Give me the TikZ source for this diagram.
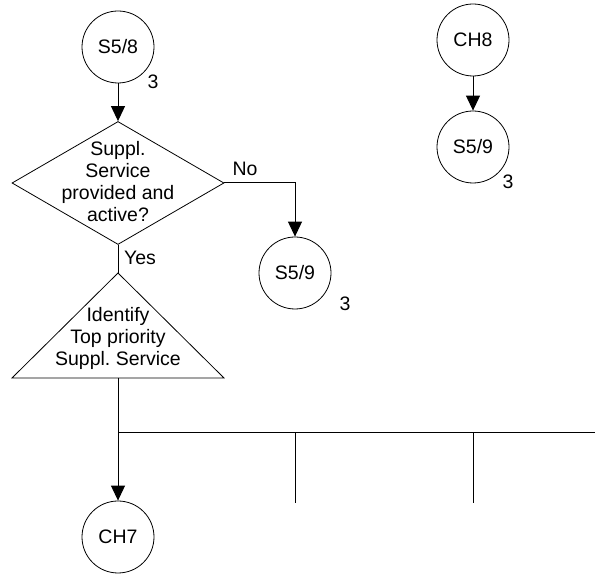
\documentclass[tikz,border=0pt]{standalone}
\usepackage{fontspec}
\setmainfont{Liberation Sans}
\usetikzlibrary{shapes.geometric,arrows.meta}
\frenchspacing
\begin{document}
\begin{tikzpicture}[x=1pt,y=1pt,
  every node/.style={font=\fontsize{19.5}{22}\selectfont},
  conn/.style={circle,draw,line width=0.8pt,minimum size=72pt,inner sep=0pt},
  flow/.style={line width=1pt},
  arr/.style={flow,-{Triangle[length=15pt,width=14pt]}},
  pagenum/.style={inner sep=0pt}]
\useasboundingbox (0,0) rectangle (595,575);

% connectors (page references)
\node[conn] (s58) at (118,528) {S5/8};
\node[pagenum] (s58n) at (153,493) {3};
\node[conn] (s59a) at (295,302) {S5/9};
\node[pagenum] (s59an) at (345,271) {3};
\node[conn] (ch8) at (473,535) {CH8};
\node[conn] (s59b) at (473,428) {S5/9};
\node[pagenum] (s59bn) at (508,393) {3};
\node[conn] (ch7) at (118,38) {CH7};

% decision
\node[diamond,draw,line width=0.8pt,minimum width=212pt,minimum height=123pt,inner sep=0pt] (dec) at (118,392) {};
\node[align=center] (dect) at (118,393) {Suppl.\\Service\\provided and\\active?};

% task triangle
\coordinate (tritop) at (118,302);
\coordinate (trib) at (118,197);
\draw[line width=0.8pt] (tritop) -- (224,197) -- (12,197) -- cycle;
\node[align=center] (trit) at (118,237) {Identify\\Top priority\\Suppl. Service};

% flow lines
\draw[arr] (s58) -- (dec.north);
\draw[arr] (dec.east) -| (s59a.north);
\node (no) at (245,406) {No};
\draw[flow] (dec.south) -- (tritop);
\node (yes) at (140,317) {Yes};
\draw[arr] (trib) -- (ch7.north);
\draw[arr] (ch8) -- (s59b.north);

% branch bus
\coordinate (bj) at (118,142.3);
\coordinate (be) at (595,142.3);
\coordinate (b1) at (295.7,142.3);
\coordinate (b1e) at (295.7,72);
\coordinate (b2) at (473,142.3);
\coordinate (b2e) at (473,72);
\draw[flow] (bj) -- (be);
\draw[flow] (b1) -- (b1e);
\draw[flow] (b2) -- (b2e);
\end{tikzpicture}
\end{document}
